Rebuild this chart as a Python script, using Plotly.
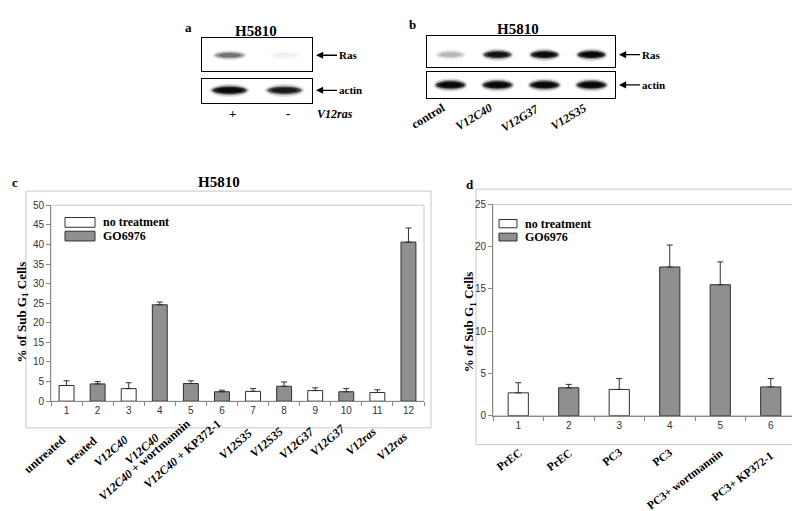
import plotly.graph_objects as go

W, H = 800, 511
def px(x):
    return x / W
def py(y):
    return 1 - y / H

SERIF = "Liberation Serif, Times New Roman, serif"
SANS = "Liberation Sans, Arial, sans-serif"
WHITE = "#ffffff"
GREY = "#8f8f8f"
EDGE = "#303030"
FRAME = "#c8c8c8"

# ---------------- data ----------------
# panel c (H5810)
c_ticks = ["1", "2", "3", "4", "5", "6", "7", "8", "9", "10", "11", "12"]
c_names = ["untreated", "treated", "<i>V12C40</i>", "<i>V12C40</i>",
           "<i>V12C40</i> + wortmannin", "<i>V12C40</i> + KP372-1",
           "<i>V12S35</i>", "<i>V12S35</i>", "<i>V12G37</i>", "<i>V12G37</i>",
           "<i>V12ras</i>", "<i>V12ras</i>"]
c_group = ["none", "GO", "none", "GO", "GO", "GO", "none", "GO", "none", "GO", "none", "GO"]
c_values = [4.0, 4.4, 3.2, 24.6, 4.5, 2.4, 2.5, 3.8, 2.7, 2.4, 2.2, 40.6]
c_errors = [1.2, 0.6, 1.5, 0.7, 0.7, 0.4, 0.7, 1.1, 0.7, 0.8, 0.7, 3.6]

# panel d
d_ticks = ["1", "2", "3", "4", "5", "6"]
d_names = ["PrEC", "PrEC", "PC3", "PC3", "PC3+ wortmannin", "PC3+ KP372-1"]
d_group = ["none", "GO", "none", "GO", "GO", "GO"]
d_values = [2.7, 3.3, 3.1, 17.6, 15.5, 3.4]
d_errors = [1.2, 0.4, 1.3, 2.6, 2.7, 1.0]

group_names = {"none": "no treatment", "GO": "GO6976"}
group_colors = {"none": WHITE, "GO": GREY}

# blots (relative band intensity per lane)
a_lanes = ["+", "-"]
a_ras = [0.35, 0.03]
a_actin = [1.0, 0.8]
b_lanes = ["control", "<i>V12C40</i>", "<i>V12G37</i>", "<i>V12S35</i>"]
b_ras = [0.15, 0.85, 0.95, 1.0]
b_actin = [1.0, 1.0, 1.0, 1.0]

# label placement (pixel row of each rotated label's upper end)
c_label_top = [426, 427, 426, 424, 409, 410, 419, 417, 417, 414, 417, 422]
d_label_top = [440, 440, 440, 440, 440, 443]

fig = go.Figure()
ann = []
shapes = []

# ---------------- bar panels ----------------
def add_bars(xa, ya, cats, groups, vals, errs, width):
    for grp in ["none", "GO"]:
        idx = [i for i, g in enumerate(groups) if g == grp]
        fig.add_trace(go.Bar(
            x=[cats[i] for i in idx], y=[vals[i] for i in idx], width=width,
            name=group_names[grp],
            marker=dict(color=group_colors[grp], line=dict(color=EDGE, width=1)),
            error_y=dict(type="data", symmetric=False,
                         array=[errs[i] for i in idx], arrayminus=[0] * len(idx),
                         color=EDGE, thickness=1, width=3),
            xaxis=xa, yaxis=ya, showlegend=False, hoverinfo="x+y"))

add_bars("x", "y", c_ticks, c_group, c_values, c_errors, 0.48)
add_bars("x2", "y2", d_ticks, d_group, d_values, d_errors, 0.40)

def cat_axis(dom, anchor, cats):
    return dict(domain=dom, anchor=anchor, type="category", categoryorder="array",
                categoryarray=cats, range=[-0.5, len(cats) - 0.5],
                tickson="boundaries", ticks="outside", ticklen=4, tickcolor="#888",
                showline=True, linecolor="#888", linewidth=1, showgrid=False,
                zeroline=False, tickfont=dict(family=SANS, size=10, color="#333"))

def val_axis(dom, anchor, top):
    return dict(domain=dom, anchor=anchor, range=[0, top], dtick=5, ticks="outside",
                ticklen=4, tickcolor="#888", showline=True, linecolor="#888",
                linewidth=1, showgrid=False, zeroline=False,
                tickfont=dict(family=SANS, size=10, color="#333"))

layout = dict(
    xaxis=cat_axis([px(43), px(416)], "y", c_ticks),
    yaxis=val_axis([py(396.7), py(196.5)], "x", 50),
    xaxis2=cat_axis([px(485), px(788)], "y2", d_ticks),
    yaxis2=val_axis([py(411.5), py(195.7)], "x2", 25),
)

# plot-area frames and outer boxes
for xr, yr in [("x domain", "y domain"), ("x2 domain", "y2 domain")]:
    shapes.append(dict(type="rect", xref=xr, yref=yr, x0=0, x1=1, y0=0, y1=1,
                       line=dict(color=FRAME, width=1), layer="below"))
for (x0, x1, y0, y1) in [(18, 423, 182, 424), (468, 793, 180, 441)]:
    shapes.append(dict(type="rect", xref="paper", yref="paper", x0=px(x0), x1=px(x1),
                       y0=py(y1), y1=py(y0), line=dict(color=FRAME, width=1), layer="below"))

# custom legends
def legend(x0, x1, rows, tx):
    for (y0, y1), grp in zip(rows, ["none", "GO"]):
        shapes.append(dict(type="rect", xref="paper", yref="paper", x0=px(x0), x1=px(x1),
                           y0=py(y1), y1=py(y0), fillcolor=group_colors[grp],
                           line=dict(color=EDGE, width=1)))
        ann.append(dict(xref="paper", yref="paper", x=px(tx), y=py((y0 + y1) / 2),
                        text="<b>%s</b>" % group_names[grp], showarrow=False,
                        xanchor="left", yanchor="middle",
                        font=dict(family=SERIF, size=12, color="black")))

legend(57, 87, [(209, 219), (223, 233)], 93)
legend(491, 509, [(211, 219.5), (225, 233)], 515)

# y titles
for x, y in [(14, 306), (461, 316)]:
    ann.append(dict(xref="paper", yref="paper", x=px(x), y=py(y),
                    text="<b>% of Sub G<sub>1</sub> Cells</b>", showarrow=False,
                    textangle=-90, xanchor="center", yanchor="middle",
                    font=dict(family=SERIF, size=13, color="black")))

# rotated category names (x given as category index)
for i, (name, top) in enumerate(zip(c_names, c_label_top)):
    ann.append(dict(xref="x", yref="paper", x=i, y=py(top), xshift=5,
                    text="<b>%s</b>" % name, showarrow=False, textangle=-41,
                    xanchor="right", yanchor="top",
                    font=dict(family=SERIF, size=12, color="black")))
for i, (name, top) in enumerate(zip(d_names, d_label_top)):
    ann.append(dict(xref="x2", yref="paper", x=i, y=py(top), xshift=8,
                    text="<b>%s</b>" % name, showarrow=False, textangle=-37,
                    xanchor="right", yanchor="top",
                    font=dict(family=SERIF, size=11.5, color="black")))

# ---------------- blots ----------------
blots = [
    dict(n="3", lanes=a_lanes, inten=a_ras, box=(194, 304, 26, 59), yc=0.48, bw=0.58, bh=0.24, label="Ras"),
    dict(n="4", lanes=a_lanes, inten=a_actin, box=(194, 304, 67, 92), yc=0.52, bw=0.66, bh=0.36, label="actin"),
    dict(n="5", lanes=b_lanes, inten=b_ras, box=(419, 607, 24, 55), yc=0.40, bw=0.62, bh=0.28, label="Ras"),
    dict(n="6", lanes=b_lanes, inten=b_actin, box=(419, 607, 60, 87), yc=0.50, bw=0.66, bh=0.34, label="actin"),
]
layers = [(1.1, 1.5, 0.15), (1.0, 1.1, 0.35), (0.9, 0.8, 0.7), (0.7, 0.55, 0.8)]

for b in blots:
    n = b["n"]
    k = len(b["lanes"])
    x0, x1, y0, y1 = b["box"]
    layout["xaxis" + n] = dict(domain=[px(x0), px(x1)], anchor="y" + n, range=[0.5, k + 0.5],
                               showticklabels=False, ticks="", showgrid=False, zeroline=False,
                               showline=True, mirror=True, linecolor="black", linewidth=1)
    layout["yaxis" + n] = dict(domain=[py(y1), py(y0)], anchor="x" + n, range=[0, 1],
                               showticklabels=False, ticks="", showgrid=False, zeroline=False,
                               showline=True, mirror=True, linecolor="black", linewidth=1)
    lanes_x = list(range(1, k + 1))
    fig.add_trace(go.Scatter(x=lanes_x, y=[b["yc"]] * k, mode="markers",
                             marker=dict(opacity=0), hoverinfo="skip", showlegend=False,
                             xaxis="x" + n, yaxis="y" + n))
    for lane, inten in zip(lanes_x, b["inten"]):
        for sw, sh, op in layers:
            shapes.append(dict(type="circle", xref="x" + n, yref="y" + n,
                               x0=lane - b["bw"] * sw / 2, x1=lane + b["bw"] * sw / 2,
                               y0=b["yc"] - b["bh"] * sh / 2, y1=b["yc"] + b["bh"] * sh / 2,
                               fillcolor="black", opacity=op * inten, line=dict(width=0),
                               layer="above"))
    # arrow label
    ymid = y0 + (1 - b["yc"]) * (y1 - y0)
    ann.append(dict(xref="paper", yref="paper", x=px(x1 + 4), y=py(ymid),
                    text="<b>%s</b>" % b["label"], showarrow=True, ax=21, ay=0,
                    xanchor="left", yanchor="middle", arrowhead=2, arrowsize=1.1,
                    arrowwidth=1.3, arrowcolor="black", standoff=0,
                    font=dict(family=SERIF, size=11, color="black")))

# lane labels
for lane, lab in zip([1, 2], a_lanes):
    ann.append(dict(xref="x4", yref="paper", x=lane, y=py(103), text="<b>%s</b>" % lab,
                    showarrow=False, xanchor="center", yanchor="middle", xshift=3,
                    font=dict(family=SERIF, size=13, color="black")))
ann.append(dict(xref="paper", yref="paper", x=px(307), y=py(103), text="<b><i>V12ras</i></b>",
                showarrow=False, xanchor="left", yanchor="middle",
                font=dict(family=SERIF, size=12, color="black")))
for lane, lab in zip(range(1, 5), b_lanes):
    ann.append(dict(xref="x6", yref="paper", x=lane, y=py(87), xshift=0,
                    text="<b>%s</b>" % lab, showarrow=False, textangle=-31,
                    xanchor="right", yanchor="top",
                    font=dict(family=SERIF, size=12, color="black")))

# titles and panel letters
for x, y, t, s in [(248, 18, "H5810", 15), (510, 16, "H5810", 15), (211, 173, "H5810", 15),
                   (180, 15, "a", 13), (404, 12, "b", 13), (7, 173, "c", 13), (462, 175, "d", 13)]:
    ann.append(dict(xref="paper", yref="paper", x=px(x), y=py(y), text="<b>%s</b>" % t,
                    showarrow=False, xanchor="center", yanchor="middle",
                    font=dict(family=SERIF, size=s, color="black")))

layout.update(dict(width=W, height=H, margin=dict(l=0, r=0, t=0, b=0),
                   paper_bgcolor="white", plot_bgcolor="white", barmode="overlay",
                   showlegend=False, annotations=ann, shapes=shapes))
fig.update_layout(**layout)
fig.write_html("out.html")
